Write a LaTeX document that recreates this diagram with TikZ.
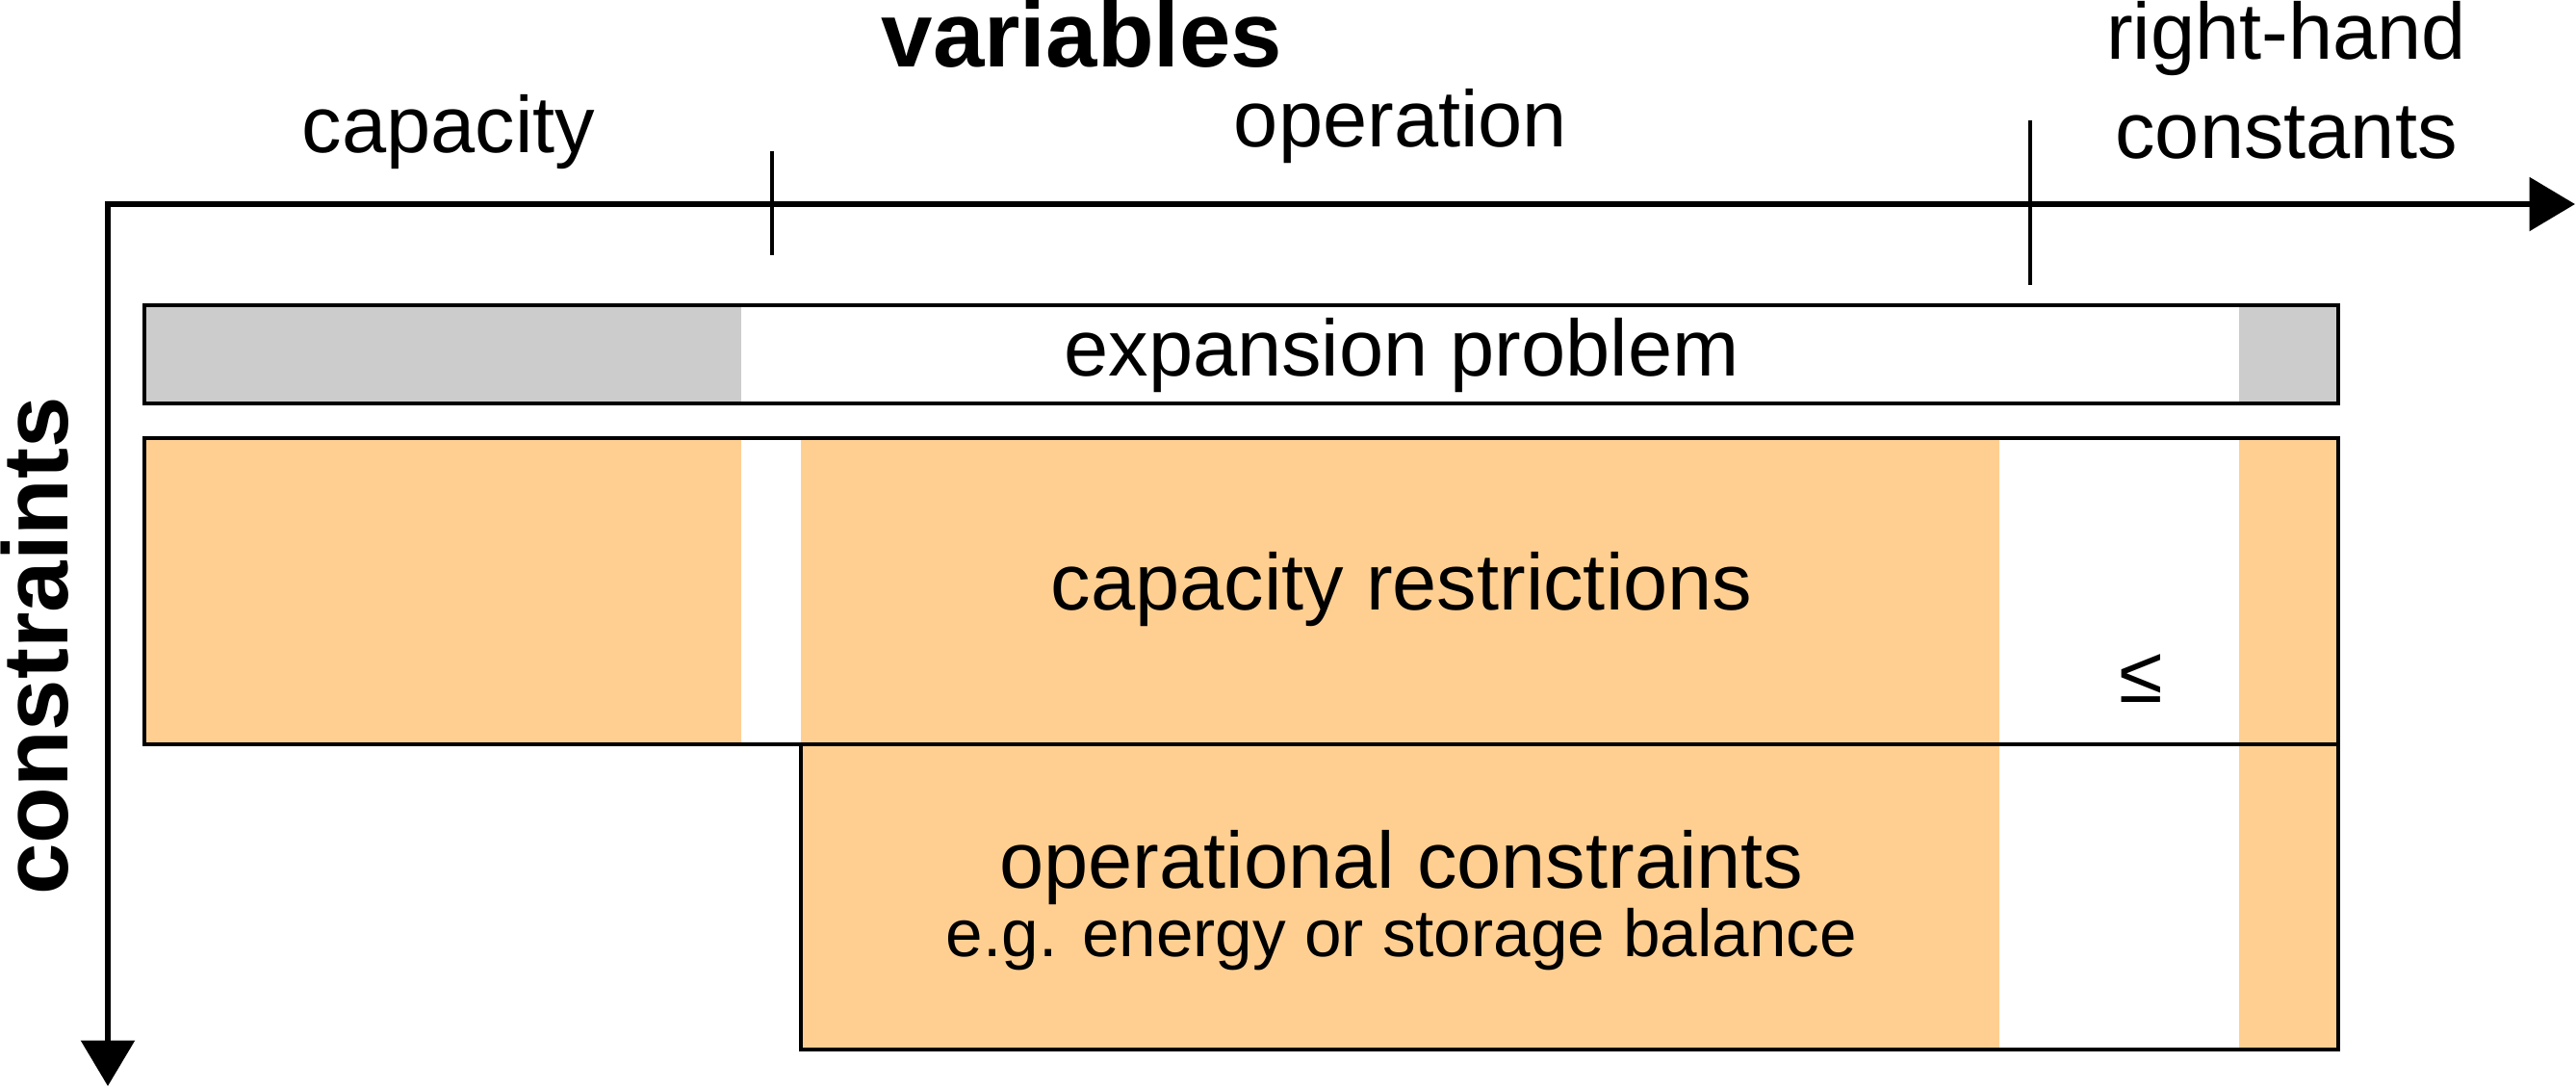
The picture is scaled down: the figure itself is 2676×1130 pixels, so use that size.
\documentclass[tikz,border=0pt]{standalone}
\usepackage{fontspec}
\setmainfont{Liberation Sans}
\usetikzlibrary{arrows.meta}
\definecolor{capgray}{HTML}{CCCCCC}
\definecolor{conorange}{HTML}{FFCF92}
\tikzset{
  lbl/.style={inner sep=0pt, anchor=base, font=\fontsize{23.6}{28.3}\selectfont},
  sublbl/.style={inner sep=0pt, anchor=base, font=\fontsize{19.7}{23.6}\selectfont},
  head/.style={inner sep=0pt, anchor=base, font=\fontsize{27.3}{32.8}\selectfont\bfseries},
  axisline/.style={line width=1.8pt, {Triangle[length=13.5pt,width=15.6pt]}-{Triangle[length=13.5pt,width=15.6pt]}},
  frame/.style={line width=1pt},
  tick/.style={line width=0.9pt}
}
\begin{document}
\begin{tikzpicture}[x=0.01cm,y=-0.01cm]
\useasboundingbox (0,0) rectangle (2676,1130);
\coordinate (o) at (112,212);
\coordinate (xend) at (2675,212);
\coordinate (yend) at (112,1128);
\fill[capgray] (150,317) rectangle (770,419);
\fill[capgray] (2326,317) rectangle (2429,419);
\fill[conorange] (150,455) rectangle (770,773);
\fill[conorange] (832,455) rectangle (2077,1090);
\fill[conorange] (2326,455) rectangle (2429,1090);
\draw[frame] (150,317) rectangle (2429,419);
\draw[frame] (150,455) rectangle (2429,773);
\draw[frame] (832,773) rectangle (2429,1090);
\draw[axisline] (xend) -- (o) -- (yend);
\draw[tick] (802,157) -- (802,265);
\draw[tick] (2109,125) -- (2109,296);
\node[head] (vars) at (1124,69) {variables};
\node[lbl] (capvar) at (466,158) {capacity};
\node[lbl] (opvar) at (1455,152) {operation};
\node[lbl] (rhs1) at (2375,61) {right-hand};
\node[lbl] (rhs2) at (2375,164) {constants};
\node[head, rotate=90] (cons) at (70,671) {constraints};
\node[lbl] (exp) at (1456,390) {expansion problem};
\node[lbl] (capres) at (1456,633) {capacity restrictions};
\node[lbl] (leq) at (2224,729) {≤};
\node[lbl] (oper) at (1456,922) {operational constraints};
\node[sublbl] (opex) at (1456,993) {e.g. energy or storage balance};
\end{tikzpicture}
\end{document}
